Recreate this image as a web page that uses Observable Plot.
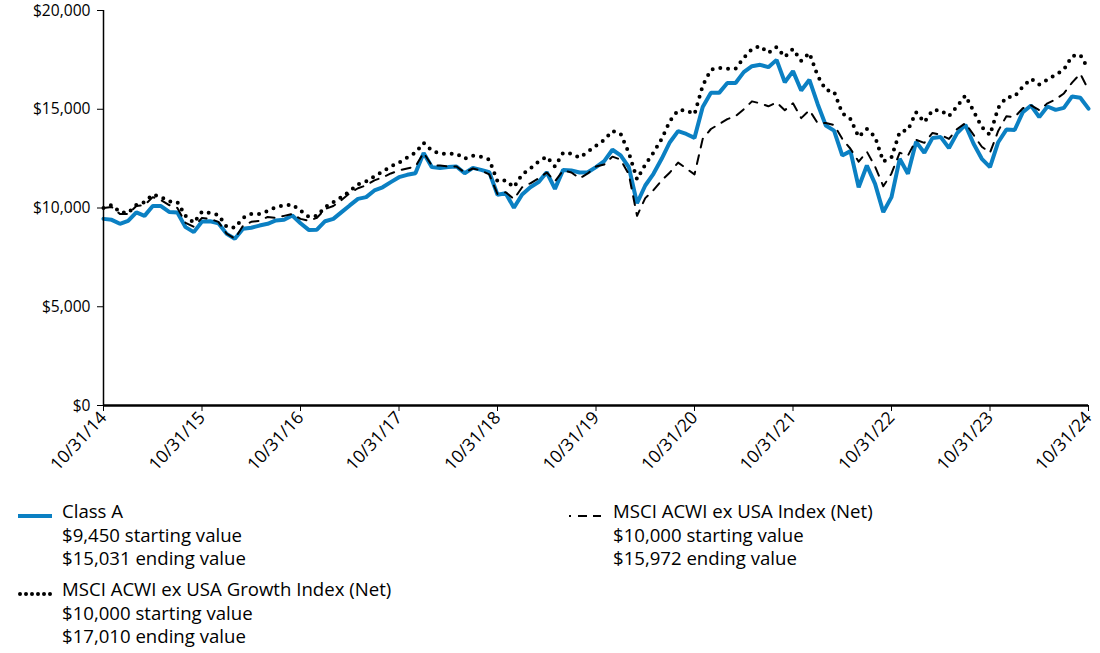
<!DOCTYPE html>
<html><head><meta charset="utf-8">
<script src="https://cdn.jsdelivr.net/npm/d3@7"></script>
<script src="https://cdn.jsdelivr.net/npm/@observablehq/plot@0.6"></script>
<style>
body{margin:0;background:#fff;font-family:"Open Sans",sans-serif;width:1100px;height:653px;overflow:hidden;}
#chart{position:absolute;left:0;top:0;}
.item{position:absolute;font-size:18.6px;line-height:23.5px;color:#000;white-space:nowrap;}
.sw{position:absolute;}
</style></head><body>
<div id="chart"></div>
<div id="legend"></div>
<script>
// Monthly values, 10/31/14 .. 10/31/24 (121 points)
const classA = [9450,9400,9200,9350,9780,9600,10100,10100,9800,9770,9030,8780,9320,
 9330,9230,8690,8440,8950,9000,9110,9200,9370,9400,9620,9230,
 8890,8900,9330,9450,9790,10130,10460,10550,10890,11050,11310,11560,
 11680,11760,12780,12070,12030,12070,12100,11760,12030,11930,11810,10670,
 10750,10010,10680,11050,11310,11810,10970,11930,11900,11800,11810,12070,
 12370,12950,12660,12070,10240,11140,11730,12490,13330,13890,13750,13550,
 15110,15830,15830,16330,16330,16880,17180,17250,17130,17500,16370,16930,
 15950,16490,15270,14180,13920,12660,12880,11050,12150,11220,9790,10550,
 12490,11730,13350,12800,13550,13590,13040,13790,14210,13250,12490,12070,
 13330,13970,13950,14850,15190,14600,15140,14970,15070,15650,15580,15031];
const acwi = [10000,10050,9700,9700,10100,10150,10550,10400,10150,10000,9250,9050,9500,
 9450,9300,8700,8450,9100,9300,9350,9550,9500,9600,9700,9450,
 9350,9500,9950,10100,10400,10750,11000,11150,11400,11550,11750,11900,
 12000,12100,12800,12150,12150,12100,12100,11800,12000,11900,11700,10700,
 10800,10450,11050,11250,11500,11800,11350,11900,11800,11500,11750,12100,
 12200,12600,12450,11700,9600,10500,10900,11400,11800,12300,12000,11700,
 13500,14000,14250,14500,14650,15000,15400,15300,15150,15350,14950,15300,
 14550,14950,14300,14300,14200,13500,13000,12350,12850,12100,11100,11750,
 12800,12650,13450,13300,13800,13700,13500,14000,14300,13700,13100,12800,
 13900,14650,14600,15050,15200,14950,15300,15500,15800,16350,16800,15972];
const growth = [10000,10150,9800,9750,10150,10300,10680,10550,10330,10300,9600,9250,9820,
 9750,9650,9050,9000,9500,9700,9700,9850,10050,10130,10180,9870,
 9550,9600,10050,10300,10550,10850,11200,11350,11600,11850,12100,12300,
 12550,12800,13300,12900,12750,12750,12750,12500,12650,12600,12450,11350,
 11400,11050,11700,12000,12350,12600,12100,12800,12750,12550,12850,13150,
 13450,13900,13750,12800,11450,12200,12800,13500,14400,14950,14950,14750,
 16200,17000,17100,17050,17050,17600,18050,18200,17850,18150,17650,18050,
 17450,17850,16700,15980,15900,14800,14500,13600,14000,13600,12350,12570,
 13850,13950,14850,14350,14950,14950,14650,15150,15700,14900,14100,13700,
 15070,15600,15650,16150,16540,16250,16500,16750,17000,17700,17750,17010];
const tickLabels = ["10/31/14","10/31/15","10/31/16","10/31/17","10/31/18","10/31/19",
 "10/31/20","10/31/21","10/31/22","10/31/23","10/31/24"];
const yTicks = [0,5000,10000,15000,20000];
const names = ["Class A","MSCI ACWI ex USA Index (Net)","MSCI ACWI ex USA Growth Index (Net)"];
const startVals = ["$9,450","$10,000","$10,000"];
const endVals = ["$15,031","$15,972","$17,010"];

const rows = s => s.map((v,i)=>({i,v}));
const xTickPos = tickLabels.map((d,k)=>k*12);
const fmt = d3.format(",");

const plot = Plot.plot({
  width:1100, height:490, marginLeft:103, marginRight:12, marginTop:10, marginBottom:85,
  style:{fontFamily:'"Open Sans", sans-serif', fontSize:"15.6px", color:"#000", background:"#fff", overflow:"visible"},
  x:{domain:[0,120]},
  y:{domain:[0,20000]},
  marks:[
    Plot.line(rows(classA),{x:"i",y:"v",stroke:"#0b80c3",strokeWidth:4,strokeLinejoin:"miter"}),
    Plot.line(rows(growth),{x:"i",y:"v",stroke:"#000",strokeWidth:4,strokeDasharray:"0,7.8",strokeLinecap:"round"}),
    Plot.line(rows(acwi),{x:"i",y:"v",stroke:"#000",strokeWidth:2,strokeDasharray:"9,8"}),
    Plot.axisY(yTicks,{tickFormat:d=>"$"+fmt(d),tickSize:6,tickPadding:7,label:null,fontSize:15.6}),
    Plot.axisX(xTickPos,{tickFormat:d=>tickLabels[d/12],tickRotate:-47,tickSize:6,tickPadding:3,label:null,fontSize:17.5}),
    Plot.ruleX([0],{stroke:"#000",strokeWidth:1.5}),
    Plot.ruleY([0],{stroke:"#000",strokeWidth:2.5})
  ]
});
document.getElementById("chart").appendChild(plot);

// Legend
const leg = document.getElementById("legend");
const items = [
  {k:0, sx:18, tx:62, top:499, sw:'<line x1="0" y1="6" x2="34" y2="6" stroke="#0b80c3" stroke-width="4"/>'},
  {k:1, sx:567, tx:613, top:499, sw:'<line x1="2" y1="6" x2="34" y2="6" stroke="#000" stroke-width="2" stroke-dasharray="2,7,9,6,9,6"/>'},
  {k:2, sx:18, tx:62, top:577, sw:'<line x1="2" y1="6" x2="34" y2="6" stroke="#000" stroke-width="4" stroke-linecap="round" stroke-dasharray="0,6"/>'}
];
for (const it of items) {
  const s = document.createElement("div");
  s.className = "sw";
  s.style.left = it.sx + "px"; s.style.top = (it.top + 6) + "px";
  s.innerHTML = '<svg width="36" height="12">' + it.sw + '</svg>';
  leg.appendChild(s);
  const t = document.createElement("div");
  t.className = "item";
  t.style.left = it.tx + "px"; t.style.top = it.top + "px";
  t.innerHTML = names[it.k] + "<br>" + startVals[it.k] + " starting value<br>" + endVals[it.k] + " ending value";
  leg.appendChild(t);
}
</script>
</body></html>
